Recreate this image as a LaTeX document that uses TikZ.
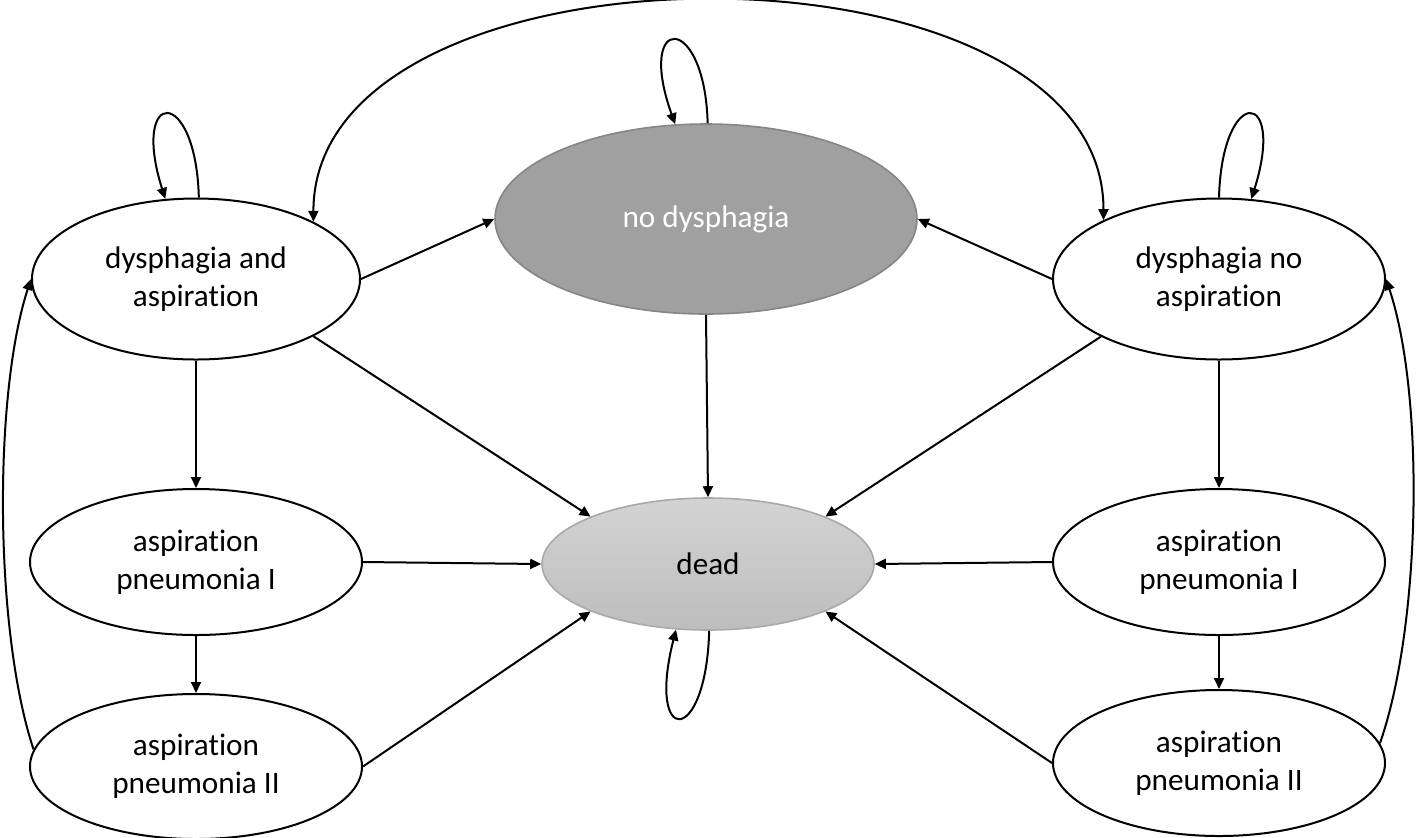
\documentclass[tikz,border=0pt]{standalone}
\usepackage{fontspec}
\setmainfont[Ligatures=NoCommon]{Carlito}
\usetikzlibrary{arrows.meta, positioning, shapes.geometric}

\definecolor{nodfill}{HTML}{A0A0A0}
\definecolor{noddraw}{HTML}{868686}
\definecolor{deadtop}{HTML}{D3D3D3}
\definecolor{deadbottom}{HTML}{BDBDBD}
\definecolor{deaddraw}{HTML}{A9A9A9}

\begin{document}
\begin{tikzpicture}[
    x=0.5pt, y=-0.5pt,
    stage/.style={ellipse, draw, line width=1pt, inner sep=0pt, minimum width=166pt, minimum height=80.5pt, align=center, font=\fontsize{15.6pt}{19pt}\selectfont},
    pneu/.style={stage, minimum height=73pt},
    arrow/.style={-{Triangle[length=5.5pt, width=5pt]}, line width=1pt},
    twoway/.style={{Triangle[length=5.5pt, width=5pt]}-{Triangle[length=5.5pt, width=5pt]}, line width=1pt}
]
\useasboundingbox (0,0) rectangle (1418,837);

\node[stage, minimum width=164pt] (dysasp) at (196,279) {dysphagia and\\aspiration};
\node[stage, minimum width=211pt, minimum height=95pt, fill=nodfill, draw=noddraw, line width=0.8pt, text=white] (nodys) at (706,219) {no dysphagia};
\node[stage] (dysnoasp) at (1219,279) {dysphagia no\\aspiration};
\node[stage, minimum height=66pt, top color=deadtop, bottom color=deadbottom, draw=deaddraw, line width=0.8pt] (dead) at (708,564) {dead};
\node[pneu, below=63.75pt of dysasp] (pneuIl) {aspiration\\pneumonia I};
\node[pneu, below=28.5pt of pneuIl, minimum height=72.5pt] (pneuIIl) {aspiration\\pneumonia II};
\node[pneu, below=63.75pt of dysnoasp] (pneuIr) {aspiration\\pneumonia I};
\node[pneu, below=26.5pt of pneuIr] (pneuIIr) {aspiration\\pneumonia II};

\draw[arrow] (dysasp.east) -- (nodys.west);
\draw[arrow] (dysnoasp.west) -- (nodys.east);
\draw[arrow] (nodys.south) -- (dead.north);
\draw[arrow] (dysasp.-26) -- (dead.158);
\draw[arrow] (dysnoasp.206) -- (dead.22);
\draw[arrow] (pneuIl.east) -- (dead.west);
\draw[arrow] (pneuIr.west) -- (dead.east);
\draw[arrow] (pneuIIl.east) -- (dead.202);
\draw[arrow] (pneuIIr.west) -- (dead.-22);

\draw[arrow] (dysasp.south) -- (pneuIl.north);
\draw[arrow] (pneuIl.south) -- (pneuIIl.north);
\draw[arrow] (dysnoasp.south) -- (pneuIr.north);
\draw[arrow] (pneuIr.south) -- (pneuIIr.north);

% back to the dysphagia states
\draw[arrow] (pneuIIl.174) .. controls +(-39,-117) and +(-38,117) .. (dysasp.west);
\draw[arrow] (pneuIIr.7) .. controls +(41,-117) and +(39,117) .. (dysnoasp.east);
\draw[twoway] (dysasp.26) .. controls +(0,-293) and +(0,-293) .. (dysnoasp.153);

% stay in the same state
\draw[arrow] (dysasp.88) .. controls +(-3,-113) and +(-35,-111) .. (dysasp.111);
\draw[arrow] (nodys.89) .. controls +(-3,-112) and +(-40,-111) .. (nodys.108);
\draw[arrow] (dysnoasp.90) .. controls +(3,-113) and +(35,-111) .. (dysnoasp.68);
\draw[arrow] (dead.-89) .. controls +(-3,116) and +(-30,118) .. (dead.-116);
\end{tikzpicture}
\end{document}
